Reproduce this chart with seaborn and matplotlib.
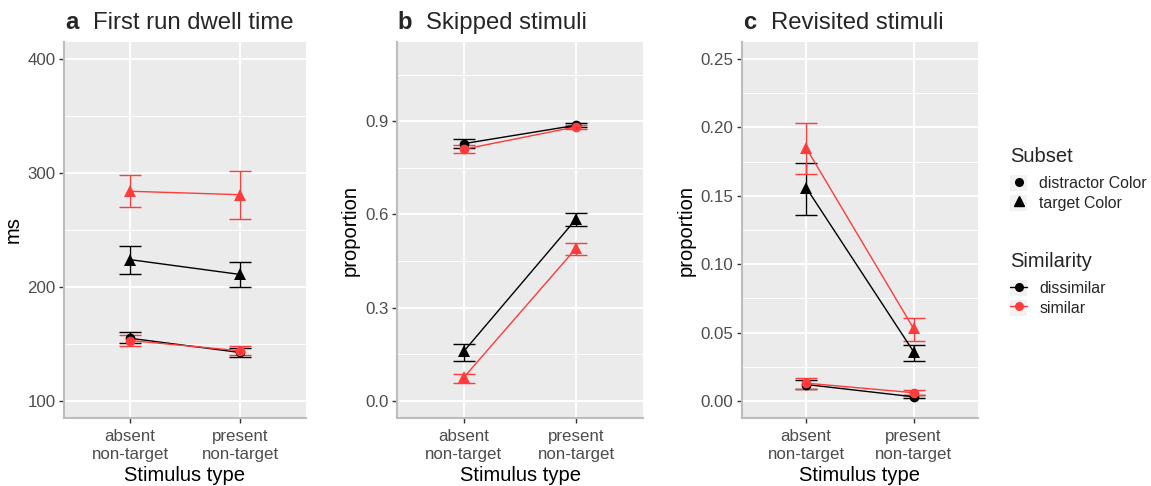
import numpy as np
import pandas as pd
import seaborn as sns
import matplotlib
matplotlib.use("Agg")
import matplotlib.pyplot as plt
from matplotlib.lines import Line2D
from matplotlib.patches import Rectangle
from matplotlib.legend_handler import HandlerLine2D
from matplotlib.ticker import MultipleLocator, FormatStrFormatter

# ---------------- data ----------------
stimulus = ["absent\nnon-target", "present\nnon-target"]
subsets = ["distractor Color", "distractor Color", "target Color", "target Color"]
similarity = ["dissimilar", "similar", "dissimilar", "similar"]

# panel a : First run dwell time (ms)
a_mean = [[155, 142.5], [153, 144], [224, 211], [284, 281]]
a_lo = [[151, 138.5], [148, 140.5], [211, 200], [270, 260]]
a_hi = [[160.5, 146], [157.5, 148], [236, 222], [298, 302]]

# panel b : Skipped stimuli (proportion)
b_mean = [[0.828, 0.887], [0.810, 0.882], [0.160, 0.585], [0.076, 0.491]]
b_lo = [[0.815, 0.881], [0.797, 0.876], [0.127, 0.562], [0.059, 0.471]]
b_hi = [[0.842, 0.893], [0.822, 0.889], [0.184, 0.606], [0.087, 0.507]]

# panel c : Revisited stimuli (proportion)
c_mean = [[0.012, 0.003], [0.013, 0.006], [0.156, 0.036], [0.185, 0.053]]
c_lo = [[0.009, 0.002], [0.009, 0.004], [0.136, 0.029], [0.166, 0.044]]
c_hi = [[0.015, 0.004], [0.017, 0.008], [0.174, 0.041], [0.203, 0.061]]

titles = [("a", "First run dwell time"), ("b", "Skipped stimuli"), ("c", "Revisited stimuli")]
ylabels = ["ms", "proportion", "proportion"]
ylims = [(100, 400), (0, 1.1), (0, 0.25)]
ymajor = [100, 0.3, 0.05]
yfmt = ["%d", "%.1f", "%.2f"]

RED = "#FF3B3B"
palette = {"dissimilar": "black", "similar": RED}
markers = {"distractor Color": "o", "target Color": "^"}
msizes = {"distractor Color": 7, "target Color": 8.5}

sns.set_theme(style="darkgrid")
plt.rcParams["font.family"] = ["Liberation Sans", "DejaVu Sans"]

fig = plt.figure(figsize=(11.51, 4.86), dpi=100)
W, H = 1151, 486
ax_px = [(64, 242), (396.7, 246.6), (741.7, 236.3)]
top_px, bot_px = 42, 418

TICK_FS = 12.2
AXT_FS = 14.5
TITLE_FS = 17.2


def make_df(mean, lo, hi):
    rows = []
    for i in range(4):
        for j in range(2):
            rows.append(dict(x=j + 1, stim=stimulus[j], Subset=subsets[i],
                             Similarity=similarity[i], y=mean[i][j],
                             lo=lo[i][j], hi=hi[i][j]))
    return pd.DataFrame(rows)


panels = [(a_mean, a_lo, a_hi), (b_mean, b_lo, b_hi), (c_mean, c_lo, c_hi)]
for k, (mean, lo, hi) in enumerate(panels):
    left, width = ax_px[k]
    ax = fig.add_axes([left / W, (H - bot_px) / H, width / W, (bot_px - top_px) / H])
    ax.set_facecolor("#EBEBEB")
    df = make_df(mean, lo, hi)
    order = [0, 2, 1, 3]
    for i in order:
        sub = df[(df.Subset == subsets[i]) & (df.Similarity == similarity[i])]
        col = palette[similarity[i]]
        ax.errorbar(sub.x, sub.y, yerr=[sub.y - sub.lo, sub.hi - sub.y], fmt="none",
                    ecolor=col, elinewidth=1.0, capsize=8, capthick=1.0, zorder=3)
        sns.lineplot(data=sub, x="x", y="y", color=col, marker=markers[subsets[i]],
                     markersize=msizes[subsets[i]], markeredgewidth=0, linewidth=1.0,
                     ax=ax, legend=False, zorder=4)
    lo_, hi_ = ylims[k]
    pad = (hi_ - lo_) * 0.05
    ax.set_xlim(0.4, 2.6)
    ax.set_xticks([1, 2])
    ax.set_xticklabels(stimulus)
    ax.yaxis.set_major_locator(MultipleLocator(ymajor[k]))
    ax.yaxis.set_minor_locator(MultipleLocator(ymajor[k] / 2))
    ax.yaxis.set_major_formatter(FormatStrFormatter(yfmt[k]))
    ax.set_ylim(lo_ - pad, hi_ + pad)
    ax.grid(which="major", color="white", linewidth=1.4)
    ax.grid(which="minor", axis="y", color="white", linewidth=0.7)
    ax.grid(which="minor", axis="x", visible=False)
    for s in ["top", "right"]:
        ax.spines[s].set_visible(False)
    for s in ["left", "bottom"]:
        ax.spines[s].set_visible(True)
        ax.spines[s].set_color("#BDBDBD")
        ax.spines[s].set_linewidth(1.5)
    ax.tick_params(axis="both", which="major", length=3.5, width=1.0, color="#333333",
                   labelsize=TICK_FS, labelcolor="#4D4D4D", pad=2.5, direction="out",
                   bottom=True, left=True)
    ax.tick_params(axis="x", which="major", pad=4.5)
    ax.tick_params(axis="both", which="minor", length=0)
    ax.set_xlabel("Stimulus type", fontsize=AXT_FS, color="black", labelpad=3)
    ax.set_ylabel(ylabels[k], fontsize=AXT_FS, color="black", labelpad=3.5)
    letter, title = titles[k]
    ax.annotate(letter, xy=(0, 1), xycoords="axes fraction", xytext=(1, 12.7),
                textcoords="offset pixels", fontsize=TITLE_FS, fontweight="bold",
                va="baseline", ha="left")
    ax.annotate(title, xy=(0, 1), xycoords="axes fraction", xytext=(29, 12.7),
                textcoords="offset pixels", fontsize=TITLE_FS, va="baseline", ha="left")


class KeyBG(HandlerLine2D):
    def create_artists(self, legend, orig_handle, xdescent, ydescent, width, height,
                       fontsize, trans):
        arts = super().create_artists(legend, orig_handle, xdescent, ydescent, width,
                                      height, fontsize, trans)
        rect = Rectangle((-xdescent, -ydescent), width, height, facecolor="#F2F2F2",
                         edgecolor="none", transform=trans)
        return [rect] + list(arts)


LEG_FS = 11.4
common = dict(loc="upper left", frameon=False, fontsize=LEG_FS, title_fontsize=AXT_FS,
              handlelength=1.1, handleheight=1.2, handletextpad=0.75, numpoints=1,
              labelspacing=0.2, borderpad=0, borderaxespad=0,
              handler_map={Line2D: KeyBG(xpad=0)})

h1 = [Line2D([], [], color="black", marker=m, linestyle="none", markersize=sz)
      for m, sz in [("o", 5.5), ("^", 6.5)]]
leg1 = fig.legend(h1, list(markers.keys()), title="Subset",
                  bbox_to_anchor=(1010 / W, 1 - 147 / H), **common)
leg1._legend_box.align = "left"
leg1._legend_box.sep = 6.5
h2 = [Line2D([], [], color=palette[s], marker="o", linestyle="-", markersize=5.5, linewidth=1)
      for s in ["dissimilar", "similar"]]
leg2 = fig.legend(h2, ["dissimilar", "similar"], title="Similarity",
                  bbox_to_anchor=(1010 / W, 1 - 252 / H), **common)
leg2._legend_box.align = "left"
leg2._legend_box.sep = 6.5

fig.savefig("out.png", dpi=100, facecolor="white")
